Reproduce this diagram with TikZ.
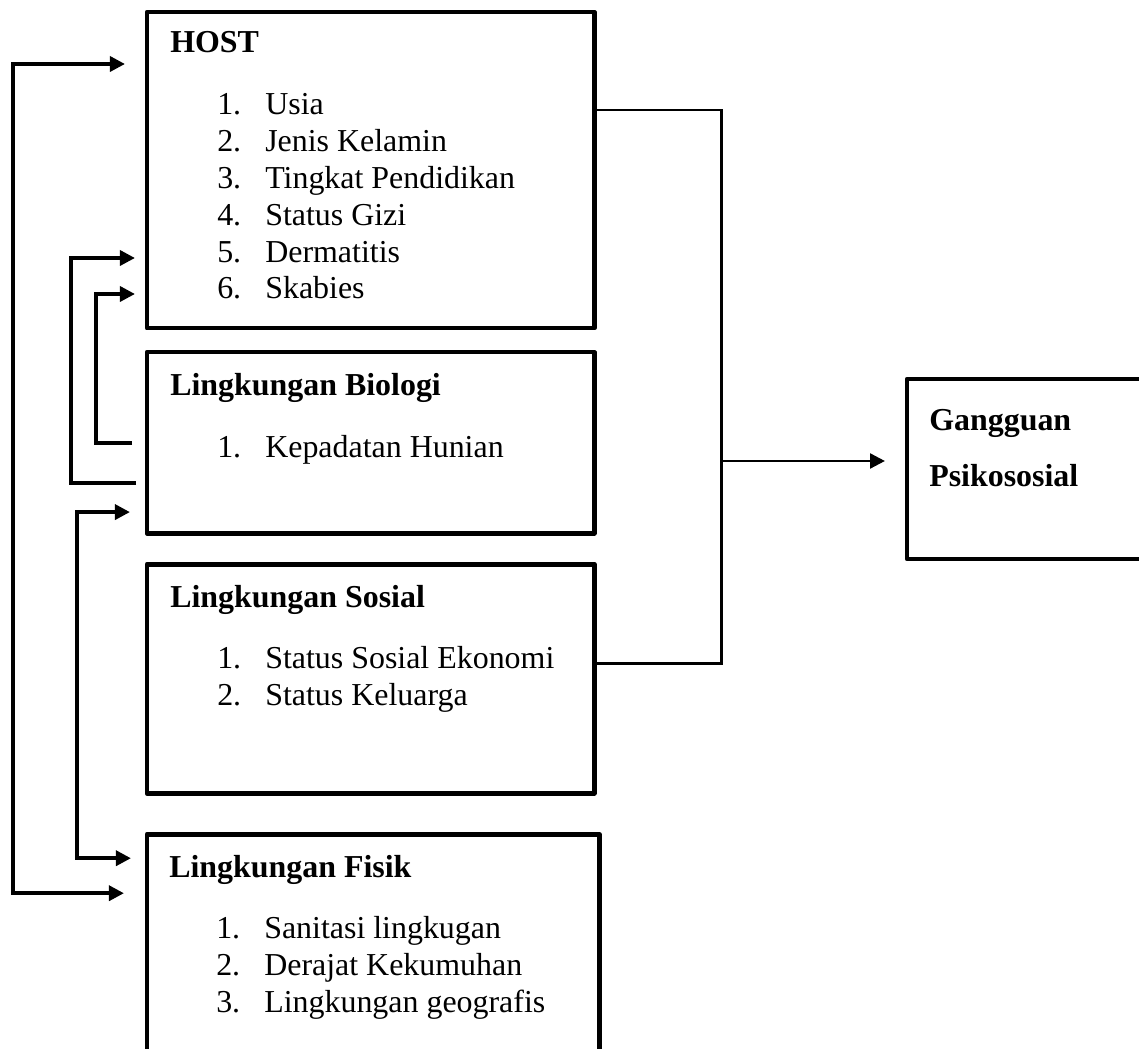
\documentclass[tikz,border=0pt]{standalone}
\usepackage{fontspec}
\setmainfont{Liberation Serif}
\usetikzlibrary{arrows.meta, positioning, calc}

\begin{document}
\begin{tikzpicture}[x=0.025cm, y=-0.025cm,
    box/.style={draw, line width=3.4pt, outer sep=0pt, inner sep=0pt, line join=round, anchor=north west, minimum width=11.175cm},
    head/.style={anchor=base west, inner sep=0pt, font=\fontsize{22.7}{26.2}\selectfont\bfseries},
    items/.style={anchor=base west, inner sep=0pt, align=left, font=\fontsize{22.7}{26.2}\selectfont},
    conn/.style={line width=2.8pt, -{Triangle[length=0.375cm, width=0.37cm]}},
    link/.style={line width=2.1pt}]
    \clip (0,0) rectangle (1139,1049);

    % Factor boxes
    \node[box, minimum height=7.9cm] (host) at (147,12) {};
    \node[box, below=0.6cm of host, minimum height=4.525cm] (bio) {};
    \node[box, below=0.775cm of bio, minimum height=5.725cm] (sos) {};
    \node[box, below=1.025cm of sos.south west, anchor=north west, minimum width=11.3cm, minimum height=6cm] (fis) {};

    % Outcome
    \node[box, minimum width=6.5cm, minimum height=4.5cm] (gang) at (907,379) {};

    % Texts (multi-line nodes sit on the baseline of their last line)
    \node[head] (host-t) at ([shift={(23,41)}]host.north west) {HOST};
    \node[items] (host-l) at ([shift={(70,287)}]host.north west)
      {\makebox[1.2cm][l]{1.}Usia\\ \makebox[1.2cm][l]{2.}Jenis Kelamin\\ \makebox[1.2cm][l]{3.}Tingkat Pendidikan\\
       \makebox[1.2cm][l]{4.}Status Gizi\\ \makebox[1.2cm][l]{5.}Dermatitis\\ \makebox[1.2cm][l]{6.}Skabies};
    \node[head] (bio-t) at ([shift={(23,43)}]bio.north west) {Lingkungan Biologi};
    \node[items] (bio-l) at ([shift={(70,105)}]bio.north west) {\makebox[1.2cm][l]{1.}Kepadatan Hunian};
    \node[head] (sos-t) at ([shift={(23,43)}]sos.north west) {Lingkungan Sosial};
    \node[items] (sos-l) at ([shift={(70,141)}]sos.north west)
      {\makebox[1.2cm][l]{1.}Status Sosial Ekonomi\\ \makebox[1.2cm][l]{2.}Status Keluarga};
    \node[head] (fis-t) at ([shift={(22,43)}]fis.north west) {Lingkungan Fisik};
    \node[items] (fis-l) at ([shift={(69,178)}]fis.north west)
      {\makebox[1.2cm][l]{1.}Sanitasi lingkugan\\ \makebox[1.2cm][l]{2.}Derajat Kekumuhan\\ \makebox[1.2cm][l]{3.}Lingkungan geografis};
    \node[head, align=left, font=\fontsize{22.7}{40.5}\selectfont\bfseries] (gang-t) at ([shift={(22,108)}]gang.north west) {Gangguan\\Psikososial};

    % Left arrows
    \draw[conn] ([shift={(-15,91)}]bio.north west) -- ++(-36,0) |- ([shift={(-12,282)}]host.north west);
    \draw[conn] ([shift={(-11,131)}]bio.north west) -- ++(-65,0) |- ([shift={(-12,246)}]host.north west);
    \draw[conn, {Triangle[length=0.375cm, width=0.37cm]}-{Triangle[length=0.375cm, width=0.37cm]}]
      ([shift={(-17,160)}]bio.north west) -- ++(-53,0) |- ([shift={(-16,24)}]fis.north west);
    \draw[conn, {Triangle[length=0.375cm, width=0.37cm]}-{Triangle[length=0.375cm, width=0.37cm]}]
      ([shift={(-22,52)}]host.north west) -- ++(-112,0) |- ([shift={(-23,59)}]fis.north west);

    % Right connector
    \coordinate (join) at ([shift={(127,449)}]host.north east);
    \draw[link] ([shift={(0,98)}]host.north east) -- ++(127,0) |- ([shift={(0,99)}]sos.north east);
    \draw[link, -{Triangle[length=0.375cm, width=0.37cm]}] (join) -- ([shift={(-22,82)}]gang.north west);
\end{tikzpicture}
\end{document}
